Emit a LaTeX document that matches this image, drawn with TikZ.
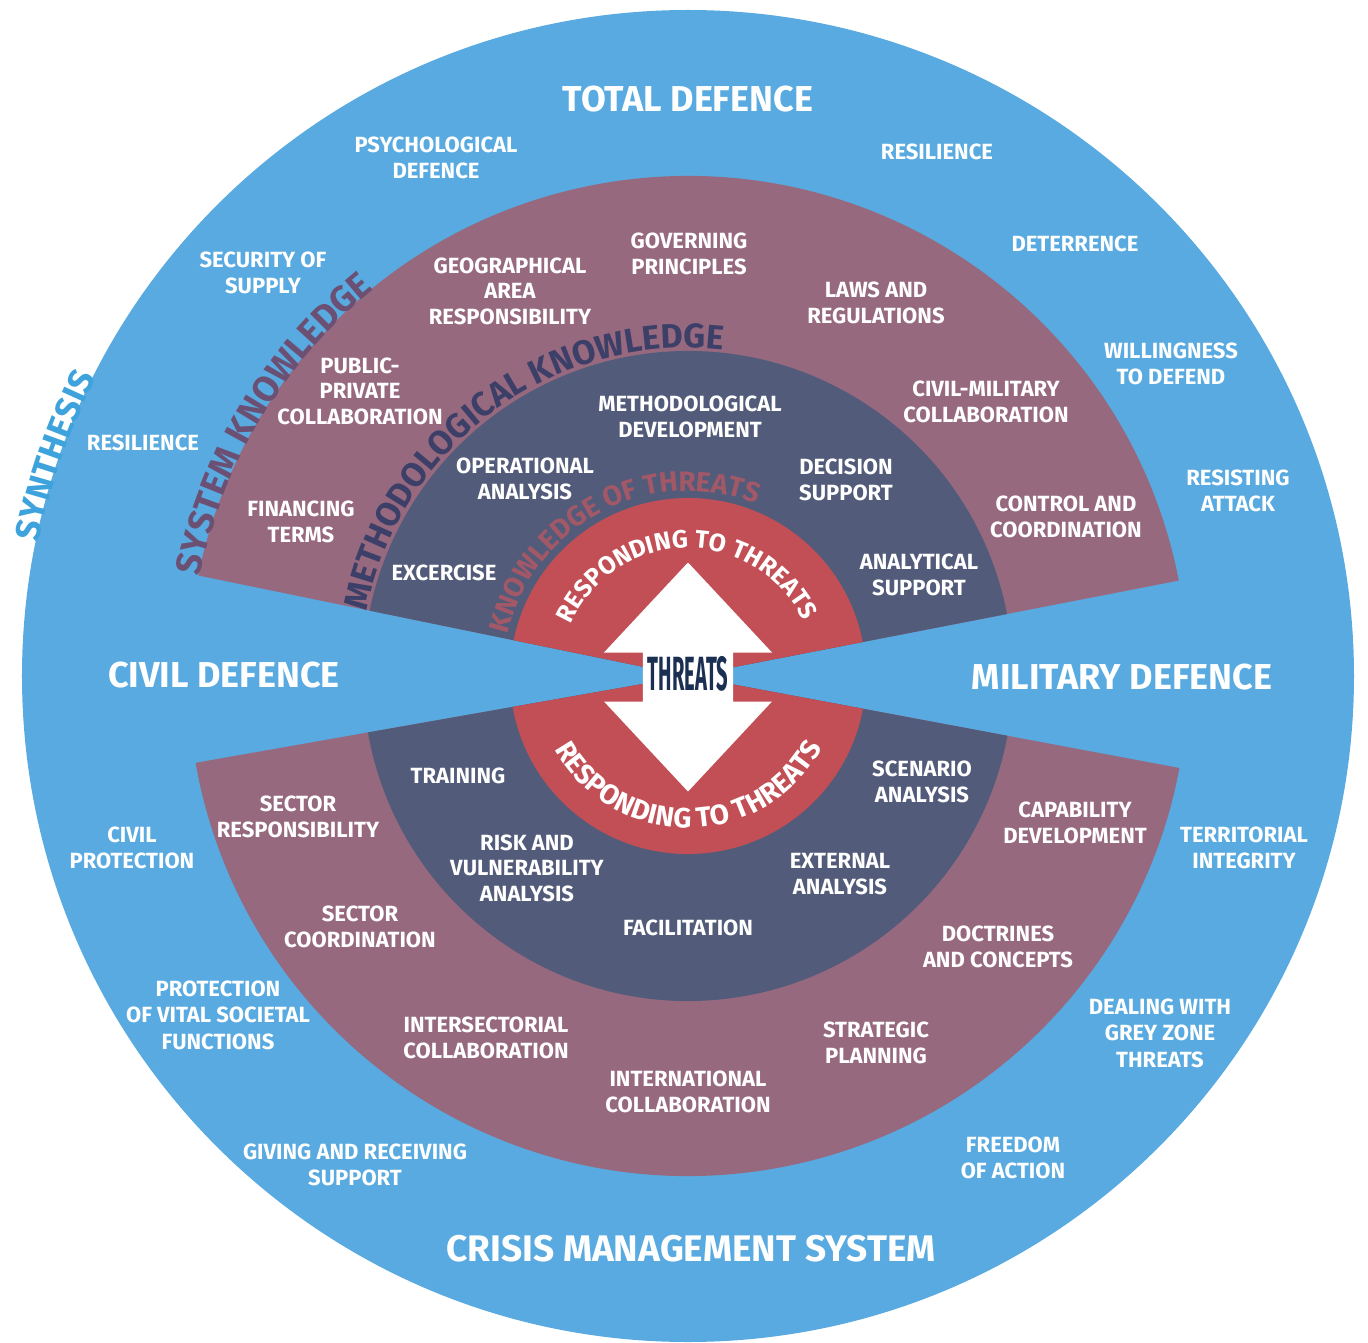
\documentclass[tikz,border=0pt]{standalone}
\usepackage{fontspec}
\setmainfont{Fira Sans}
\usetikzlibrary{decorations.text}

\definecolor{ringblue}{RGB}{88,170,224}
\definecolor{fanmauve}{RGB}{151,105,127}
\definecolor{fanslate}{RGB}{82,91,121}
\definecolor{corered}{RGB}{194,79,85}
\definecolor{threatnavy}{RGB}{27,47,82}
\definecolor{syscol}{RGB}{108,80,116}
\definecolor{methcol}{RGB}{60,64,104}
\definecolor{knowcol}{RGB}{163,88,104}
\definecolor{syncol}{RGB}{62,163,220}

\tikzset{
  outerlbl/.style={text=white, align=center, inner sep=0pt,
    font=\bfseries\fontsize{22}{26.5}\selectfont},
  innerlbl/.style={text=white, align=center, inner sep=0pt,
    font=\bfseries\fontsize{22}{25.5}\selectfont},
  biglbl/.style={text=white, inner sep=0pt,
    font=\bfseries\fontsize{36}{40}\selectfont},
  arclabel/.style n args={3}{decorate, decoration={text along path,
    text align=center, text color=#1,
    text={|\bfseries\fontsize{#2}{#2}\selectfont|#3}}},
}

\begin{document}
\begin{tikzpicture}[x=1pt,y=1pt]
\useasboundingbox (-688,-666) rectangle (680,676);

% outer ring
\fill[ringblue] (0,0) circle[radius=666];

% upper fan
\fill[fanmauve] (0,0) -- (11:500) arc[start angle=11,end angle=168.4,radius=500] -- cycle;
\fill[fanslate] (0,0) -- (11:325) arc[start angle=11,end angle=168.4,radius=325] -- cycle;
\fill[corered]  (0,0) -- (11:178) arc[start angle=11,end angle=168.4,radius=178] -- cycle;

% lower fan
\fill[fanmauve] (0,0) -- (190:500) arc[start angle=190,end angle=349.4,radius=500] -- cycle;
\fill[fanslate] (0,0) -- (190:325) arc[start angle=190,end angle=349.4,radius=325] -- cycle;
\fill[corered]  (0,0) -- (190:178) arc[start angle=190,end angle=349.4,radius=178] -- cycle;

% double arrow in the middle
\fill[white] (0,113.5) -- (84,23.5) -- (45,23.5) -- (45,-25.5) -- (84,-25.5)
  -- (0,-115.5) -- (-84,-25.5) -- (-45,-25.5) -- (-45,23.5) -- (-84,23.5) -- cycle;
\node[inner sep=0pt, text=threatnavy, font=\bfseries\fontsize{48}{48}\selectfont]
  (threats) at (0,2.5) {\scalebox{0.42}[1]{THREATS}};

% curved titles
\path[arclabel={syncol}{35}{SYNTHESIS}]
  (200.8:663) arc[start angle=200.8,end angle=120.8,radius=663];
\path[arclabel={syscol}{36}{SYSTEM KNOWLEDGE}]
  (198.75:498) arc[start angle=198.75,end angle=98.75,radius=498];
\path[arclabel={methcol}{34}{METHODOLOGICAL KNOWLEDGE}]
  (196.25:328) arc[start angle=196.25,end angle=56.25,radius=328];
\path[arclabel={knowcol}{28}{KNOWLEDGE OF THREATS}]
  (207.65:185) arc[start angle=207.65,end angle=27.65,radius=185];
\path[arclabel={white}{25}{RESPONDING TO THREATS}]
  (190.75:128) arc[start angle=190.75,end angle=-9.25,radius=128];
\path[arclabel={white}{28}{RESPONDING TO THREATS}]
  (170.3:152) arc[start angle=170.3,end angle=370.3,radius=152];

% main headings
\node[biglbl] (total)  at (0,576.5)  {TOTAL DEFENCE};
\node[biglbl] (civil)  at (-464,1)   {CIVIL DEFENCE};
\node[biglbl] (milit)  at (434,-1)   {MILITARY DEFENCE};
\node[biglbl, font=\bfseries\fontsize{37}{40}\selectfont]
  (crisis) at (3,-573) {CRISIS MANAGEMENT SYSTEM};

% outer ring labels
\node[outerlbl] (psych)    at (-252,518)  {PSYCHOLOGICAL\\DEFENCE};
\node[outerlbl] (resilA)   at (249,524)   {RESILIENCE};
\node[outerlbl] (supply)   at (-425,403)  {SECURITY OF\\SUPPLY};
\node[outerlbl] (deter)    at (387,432)   {DETERRENCE};
\node[outerlbl] (willing)  at (483,312)   {WILLINGNESS\\TO DEFEND};
\node[outerlbl] (resilB)   at (-545,233)  {RESILIENCE};
\node[outerlbl] (resist)   at (550,185)   {RESISTING\\ATTACK};
\node[outerlbl] (civprot)  at (-556,-172) {CIVIL\\PROTECTION};
\node[outerlbl] (territ)   at (556,-172)  {TERRITORIAL\\INTEGRITY};
\node[outerlbl] (vital)    at (-470,-339) {PROTECTION\\OF VITAL SOCIETAL\\FUNCTIONS};
\node[outerlbl] (greyzone) at (472,-357)  {DEALING WITH\\GREY ZONE\\THREATS};
\node[outerlbl] (giving)   at (-333,-489) {GIVING AND RECEIVING\\SUPPORT};
\node[outerlbl] (freedom)  at (325,-482)  {FREEDOM\\OF ACTION};

% system knowledge labels
\node[innerlbl] (geo)      at (-178,385)  {GEOGRAPHICAL\\AREA\\RESPONSIBILITY};
\node[innerlbl] (govern)   at (1,422)     {GOVERNING\\PRINCIPLES};
\node[innerlbl] (laws)     at (188,373)   {LAWS AND\\REGULATIONS};
\node[innerlbl] (ppp)      at (-328,285)  {PUBLIC-\\PRIVATE\\COLLABORATION};
\node[innerlbl] (civmil)   at (298,274)   {CIVIL-MILITARY\\COLLABORATION};
\node[innerlbl] (finance)  at (-387,154)  {FINANCING\\TERMS};
\node[innerlbl] (control)  at (378,159)   {CONTROL AND\\COORDINATION};
\node[innerlbl] (secresp)  at (-390,-141) {SECTOR\\RESPONSIBILITY};
\node[innerlbl] (capab)    at (387,-147)  {CAPABILITY\\DEVELOPMENT};
\node[innerlbl] (seccoord) at (-328,-251) {SECTOR\\COORDINATION};
\node[innerlbl] (doctr)    at (310,-271)  {DOCTRINES\\AND CONCEPTS};
\node[innerlbl] (intersec) at (-202,-362) {INTERSECTORIAL\\COLLABORATION};
\node[innerlbl] (strat)    at (188,-367)  {STRATEGIC\\PLANNING};
\node[innerlbl] (intl)     at (0,-416)    {INTERNATIONAL\\COLLABORATION};

% methodological knowledge labels
\node[innerlbl] (methdev)  at (2,259)     {METHODOLOGICAL\\DEVELOPMENT};
\node[innerlbl] (oper)     at (-163,197)  {OPERATIONAL\\ANALYSIS};
\node[innerlbl] (decis)    at (158,196)   {DECISION\\SUPPORT};
\node[innerlbl] (excer)    at (-244,103)  {EXCERCISE};
\node[innerlbl] (analyt)   at (231,101)   {ANALYTICAL\\SUPPORT};
\node[innerlbl] (train)    at (-230,-100) {TRAINING};
\node[innerlbl] (scen)     at (234,-106)  {SCENARIO\\ANALYSIS};
\node[innerlbl] (risk)     at (-161,-192) {RISK AND\\VULNERABILITY\\ANALYSIS};
\node[innerlbl] (extern)   at (152,-198)  {EXTERNAL\\ANALYSIS};
\node[innerlbl] (facil)    at (0,-252)    {FACILITATION};
\end{tikzpicture}
\end{document}
